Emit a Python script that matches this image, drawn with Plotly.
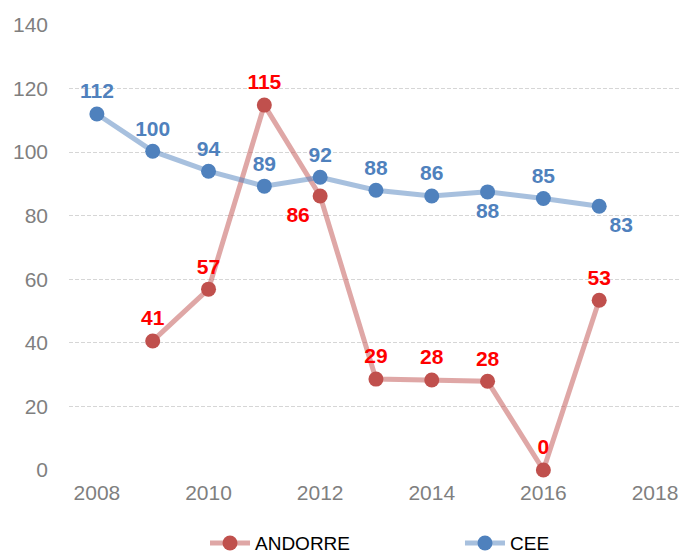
import plotly.graph_objects as go

years = [2008, 2009, 2010, 2011, 2012, 2013, 2014, 2015, 2016, 2017]
andorre_years = [2009, 2010, 2011, 2012, 2013, 2014, 2015, 2016, 2017]
andorre = [40.6, 56.9, 114.8, 86.2, 28.6, 28.3, 27.9, 0, 53.4]
cee = [112, 100.3, 94, 89.3, 92.1, 88, 86.2, 87.5, 85.4, 83]

andorre_labels = [f"{v:.0f}" for v in andorre]
cee_labels = [f"{v:.0f}" for v in cee]

andorre_pos = ["top center", "top center", "top center", "bottom left", "top center",
               "top center", "top center", "top center", "top center"]
cee_pos = ["top center"] * 7 + ["bottom center", "top center", "bottom right"]

fig = go.Figure()
fig.add_trace(go.Scatter(
    x=andorre_years, y=andorre, name="ANDORRE", mode="lines+markers+text",
    line=dict(color="rgba(192,80,77,0.5)", width=5),
    marker=dict(color="#C0504D", size=15),
    text=andorre_labels, textposition=andorre_pos,
    textfont=dict(color="#FF0000", size=21, family="Liberation Sans"),
    texttemplate="<b>%{text}</b>", cliponaxis=False, legend="legend",
))
fig.add_trace(go.Scatter(
    x=years, y=cee, name="CEE", mode="lines+markers+text",
    line=dict(color="rgba(79,129,189,0.5)", width=5),
    marker=dict(color="#4F81BD", size=15),
    text=cee_labels, textposition=cee_pos,
    textfont=dict(color="#4F81BD", size=21, family="Liberation Sans"),
    texttemplate="<b>%{text}</b>", cliponaxis=False, legend="legend2",
))

# page body has an 8px margin, so the figure is sized to fit the window
leg = dict(orientation="h", xref="container", yref="container", xanchor="left",
           y=0.02, yanchor="middle", font=dict(color="black", size=19), itemwidth=40)
fig.update_layout(
    width=671, height=546,
    margin=dict(l=61, r=0, t=17, b=84),
    paper_bgcolor="white", plot_bgcolor="white",
    font=dict(family="Liberation Sans", color="#7f7f7f", size=21),
    showlegend=True,
    legend=dict(leg, x=0.2936),
    legend2=dict(leg, x=0.6736),
)
fig.update_xaxes(range=[2007.5, 2018.43], tickvals=[2008, 2010, 2012, 2014, 2016, 2018],
                 showgrid=False, zeroline=False, showline=False, ticks="",
                 automargin=False, ticklabelstandoff=8)
fig.update_yaxes(range=[0, 140], dtick=20, showgrid=True, gridcolor="#d6d6d6",
                 griddash="4px,2px", gridwidth=1, zeroline=False, showline=False,
                 ticks="", ticklabelstandoff=20, automargin=False)

fig.write_html("out.html")
